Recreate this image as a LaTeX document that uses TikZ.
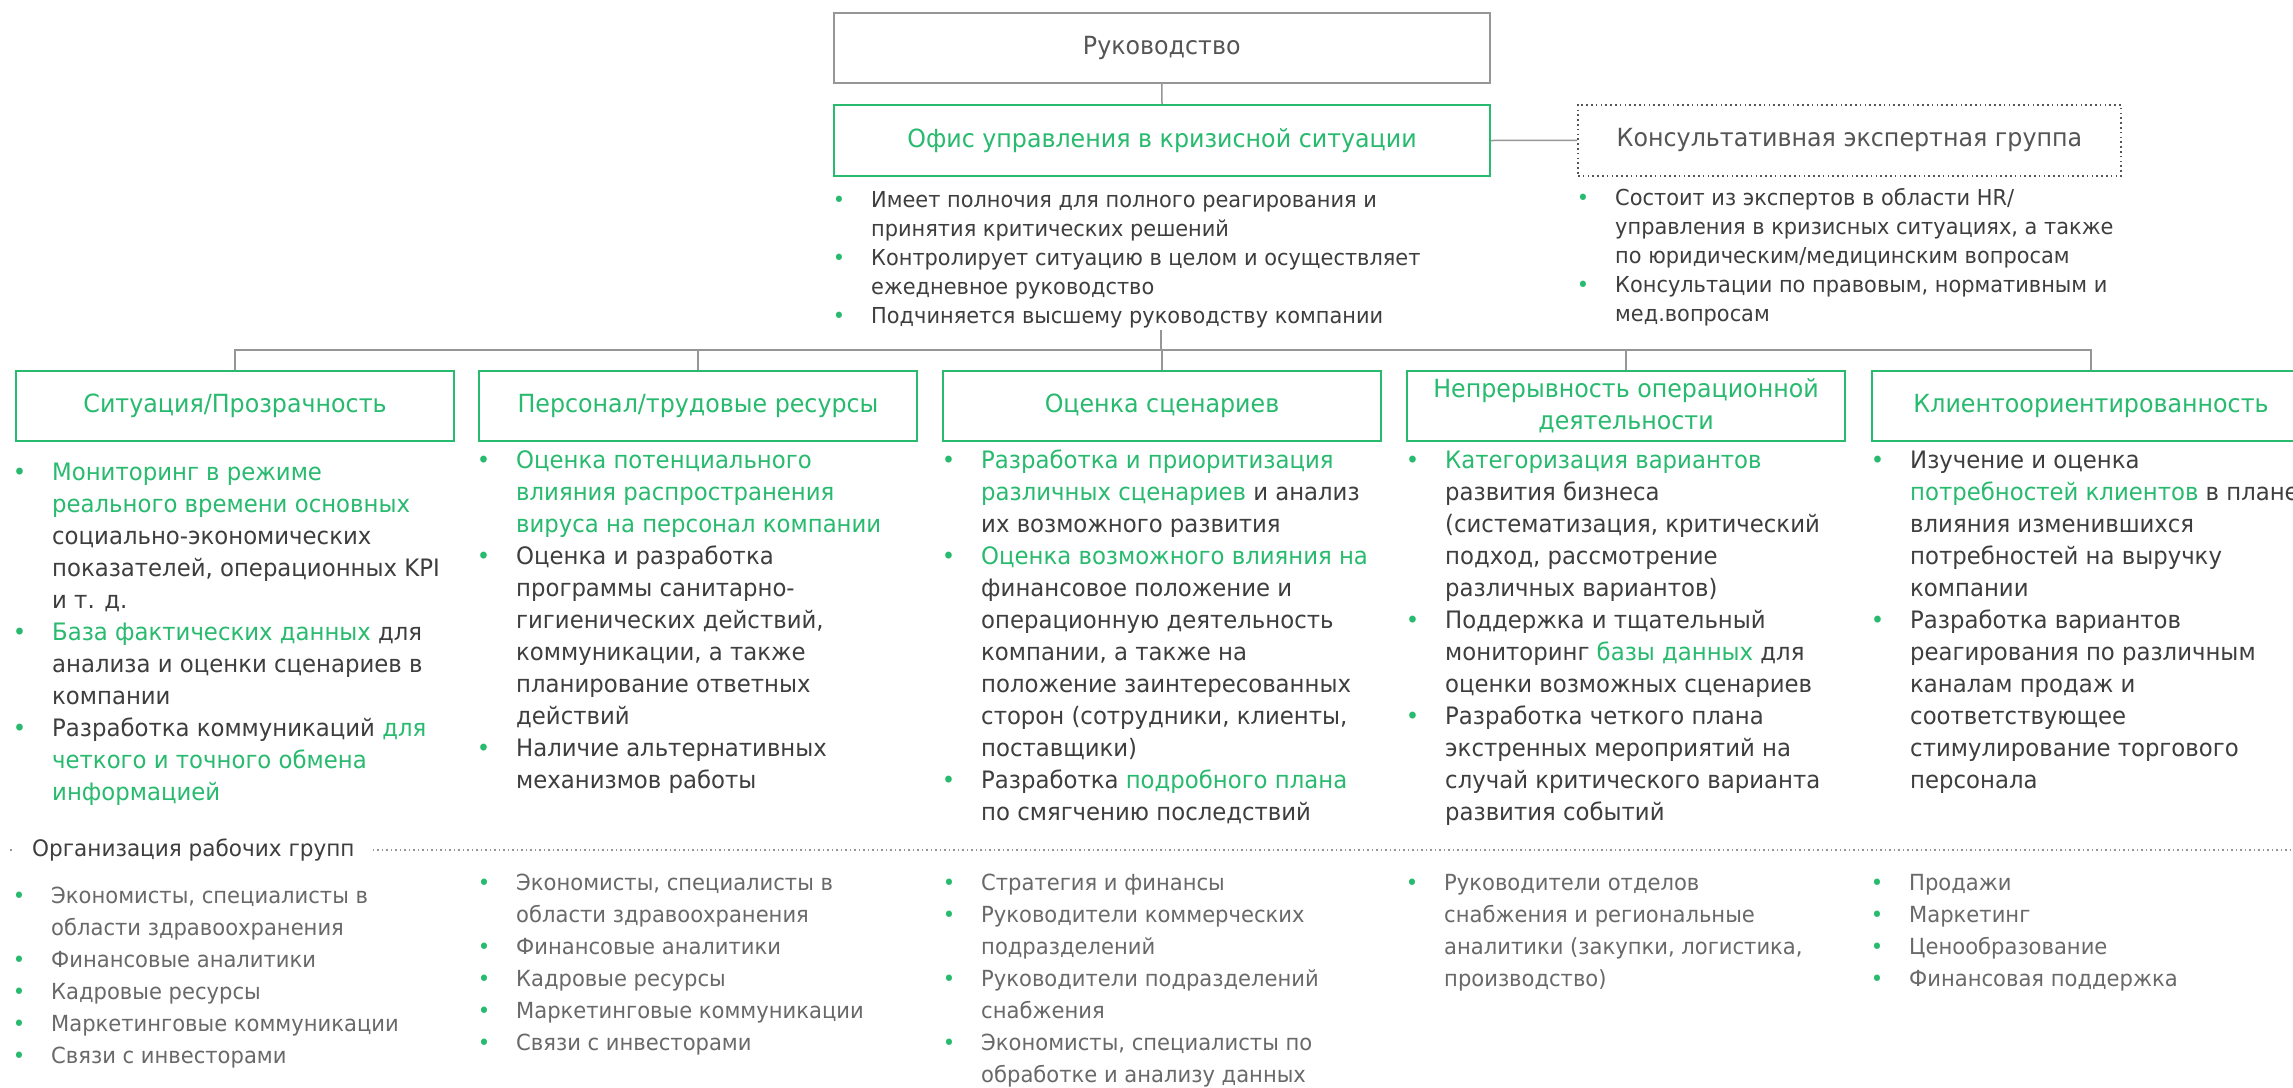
\documentclass[tikz,border=0pt]{standalone}
\usepackage{fontspec}
\setmainfont[FakeStretch=0.95]{DejaVu Sans}
\definecolor{cgreen}{RGB}{40,186,110}
\definecolor{ctext}{RGB}{62,62,62}
\definecolor{clight}{RGB}{105,105,105}
\definecolor{chead}{RGB}{85,85,85}
\definecolor{cline}{RGB}{150,150,150}
\newcommand\gr[1]{\textcolor{cgreen}{#1}}
\newcommand\bul{\leavevmode\llap{\textcolor{cgreen}{•}\hspace{26pt}}}
\newcommand\lstbox[1]{\begin{minipage}[t]{700pt}\raggedright #1\end{minipage}}
\tikzset{
  topbox/.style={draw=cline, line width=1.5pt, minimum width=656pt, minimum height=70pt, anchor=north west, inner sep=0pt, text=chead, font=\fontsize{25}{30}\selectfont},
  greenbox/.style={draw=cgreen, line width=2pt, minimum width=438pt, minimum height=70pt, anchor=north west, inner sep=0pt, text=cgreen, align=center, font=\fontsize{25}{32}\selectfont},
  dotbox/.style={draw=chead, line width=1.8pt, dash pattern=on 1.6pt off 3.2pt, minimum width=543pt, minimum height=71pt, anchor=north west, inner sep=0pt, text=chead, font=\fontsize{25}{30}\selectfont},
  conn/.style={draw=cline, line width=1.5pt},
  smalllist/.style={anchor=base west, inner sep=0pt, text=ctext, font=\fontsize{22}{29}\selectfont},
  collist/.style={anchor=base west, inner sep=0pt, text=ctext, font=\fontsize{24}{32}\selectfont},
  botlist/.style={anchor=base west, inner sep=0pt, text=clight, font=\fontsize{22.2}{32}\selectfont},
}
\begin{document}
\begin{tikzpicture}[x=1pt, y=-1pt]
\useasboundingbox (0,0) rectangle (2293,1087);
\clip (0,0) rectangle (2293,1087);
\fill[white] (0,0) rectangle (2293,1087);

% top level
\node[topbox] (lead) at (833,12) {Руководство};
\node[greenbox, minimum width=656pt, minimum height=71pt] (office) at (833,104) {Офис управления в кризисной ситуации};
\node[dotbox] (consult) at (1577,104) {Консультативная экспертная группа};
\draw[conn] (lead.south) -- (office.north);
\draw[conn] (office.east) -- (consult.west);

\node[smalllist] (officelist) at (871,207) {\lstbox{%
\bul Имеет полночия для полного реагирования и\\
принятия критических решений\\
\bul Контролирует ситуацию в целом и осуществляет\\
ежедневное руководство\\
\bul Подчиняется высшему руководству компании}};

\node[smalllist] (consultlist) at (1615,205) {\lstbox{%
\bul Состоит из экспертов в области HR/\\
управления в кризисных ситуациях, а также\\
по юридическим/медицинским вопросам\\
\bul Консультации по правовым, нормативным и\\
мед.вопросам}};

% second level boxes
\node[greenbox] (b1) at (15,370) {Ситуация/Прозрачность};
\node[greenbox] (b2) at (478,370) {Персонал/трудовые ресурсы};
\node[greenbox] (b3) at (942,370) {Оценка сценариев};
\node[greenbox] (b4) at (1406,370) {Непрерывность операционной\\деятельности};
\node[greenbox] (b5) at (1871,370) {Клиентоориентированность};

\coordinate (busmid) at (1161,350);
\coordinate (listbot) at (1161,330);
\draw[conn] (listbot) -- (busmid);
\draw[conn] (b1.north) |- (busmid) -| (b5.north);
\draw[conn] (b2.north) -- (b2.north |- busmid);
\draw[conn] (b3.north) -- (b3.north |- busmid);
\draw[conn] (b4.north) -- (b4.north |- busmid);

% column lists
\node[collist] (c1) at (52,480) {\lstbox{%
\bul \gr{Мониторинг в режиме}\\
\gr{реального времени основных}\\
социально-экономических\\
показателей, операционных KPI\\
и т. д.\\
\bul \gr{База фактических данных} для\\
анализа и оценки сценариев в\\
компании\\
\bul Разработка коммуникаций \gr{для}\\
\gr{четкого и точного обмена}\\
\gr{информацией}}};

\node[collist] (c2) at (516,468) {\lstbox{%
\bul \gr{Оценка потенциального}\\
\gr{влияния распространения}\\
\gr{вируса на персонал компании}\\
\bul Оценка и разработка\\
программы санитарно-\\
гигиенических действий,\\
коммуникации, а также\\
планирование ответных\\
действий\\
\bul Наличие альтернативных\\
механизмов работы}};

\node[collist] (c3) at (981,468) {\lstbox{%
\bul \gr{Разработка и приоритизация}\\
\gr{различных сценариев} и анализ\\
их возможного развития\\
\bul \gr{Оценка возможного влияния на}\\
финансовое положение и\\
операционную деятельность\\
компании, а также на\\
положение заинтересованных\\
сторон (сотрудники, клиенты,\\
поставщики)\\
\bul Разработка \gr{подробного плана}\\
по смягчению последствий}};

\node[collist] (c4) at (1445,468) {\lstbox{%
\bul \gr{Категоризация вариантов}\\
развития бизнеса\\
(систематизация, критический\\
подход, рассмотрение\\
различных вариантов)\\
\bul Поддержка и тщательный\\
мониторинг \gr{базы данных} для\\
оценки возможных сценариев\\
\bul Разработка четкого плана\\
экстренных мероприятий на\\
случай критического варианта\\
развития событий}};

\node[collist] (c5) at (1910,468) {\lstbox{%
\bul Изучение и оценка\\
\gr{потребностей клиентов} в плане\\
влияния изменившихся\\
потребностей на выручку\\
компании\\
\bul Разработка вариантов\\
реагирования по различным\\
каналам продаж и\\
соответствующее\\
стимулирование торгового\\
персонала}};

% working groups
\node[anchor=base west, inner ysep=0pt, inner xsep=18pt, text=ctext, font=\fontsize{22.7}{30}\selectfont] (org) at (14,856) {Организация рабочих групп};
\coordinate (rowend) at (2293,850);
\coordinate (rowstart) at (10,850);
\draw[cline, line width=1.5pt, dash pattern=on 1.5pt off 3pt] (rowstart) -- (rowstart -| org.west);
\draw[cline, line width=1.5pt, dash pattern=on 1.5pt off 3pt] (rowend -| org.east) -- (rowend);

\node[botlist] (d1) at (51,903) {\lstbox{%
\bul Экономисты, специалисты в\\
области здравоохранения\\
\bul Финансовые аналитики\\
\bul Кадровые ресурсы\\
\bul Маркетинговые коммуникации\\
\bul Связи с инвесторами}};

\node[botlist] (d2) at (516,890) {\lstbox{%
\bul Экономисты, специалисты в\\
области здравоохранения\\
\bul Финансовые аналитики\\
\bul Кадровые ресурсы\\
\bul Маркетинговые коммуникации\\
\bul Связи с инвесторами}};

\node[botlist] (d3) at (981,890) {\lstbox{%
\bul Стратегия и финансы\\
\bul Руководители коммерческих\\
подразделений\\
\bul Руководители подразделений\\
снабжения\\
\bul Экономисты, специалисты по\\
обработке и анализу данных}};

\node[botlist] (d4) at (1444,890) {\lstbox{%
\bul Руководители отделов\\
снабжения и региональные\\
аналитики (закупки, логистика,\\
производство)}};

\node[botlist] (d5) at (1909,890) {\lstbox{%
\bul Продажи\\
\bul Маркетинг\\
\bul Ценообразование\\
\bul Финансовая поддержка}};
\end{tikzpicture}
\end{document}
